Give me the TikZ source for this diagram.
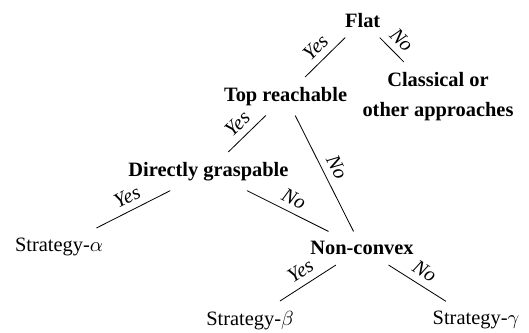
\documentclass[tikz,border=0pt]{standalone}
\usepackage{fontspec}
\setmainfont{Liberation Serif}
\usepackage{tikz}

\begin{document}
\begin{tikzpicture}
    [
        test_node/.style={font=\bfseries, inner sep=4.7pt},
        leaf_node/.style={inner sep=4.7pt},
        edge_label/.style={sloped, above, font=\itshape},
    ]

  \useasboundingbox (0,0) rectangle (9.11,-5.734);

  \node[test_node] (flat) at (6.246,-0.351) {Flat};
  \node[test_node] (top) at (4.917,-1.658) {Top reachable};
  \node[test_node, align=center] (classic) at (7.543,-1.662) {Classical or\\[3pt]other approaches};
  \node[test_node] (grasp) at (3.590,-2.950) {Directly graspable};
  \node[test_node] (convex) at (6.234,-4.275) {Non-convex};
  \node[leaf_node] (alpha) at (1.016,-4.253) {Strategy-$\alpha$};
  \node[leaf_node] (beta) at (4.305,-5.516) {Strategy-$\beta$};
  \node[leaf_node] (gamma) at (8.197,-5.516) {Strategy-$\gamma$};

  \draw (flat) -- node[edge_label] {Yes} (top);
  \draw (flat) -- node[edge_label] {No} (classic);
  \draw (top) -- node[edge_label] {Yes} (grasp);
  \draw (top) -- node[edge_label] {No} (convex);
  \draw (grasp) -- node[edge_label] {Yes} (alpha);
  \draw (grasp) -- node[edge_label] {No} (convex);
  \draw (convex) -- node[edge_label] {Yes} (beta);
  \draw (convex) -- node[edge_label] {No} (gamma);
\end{tikzpicture}
\end{document}
